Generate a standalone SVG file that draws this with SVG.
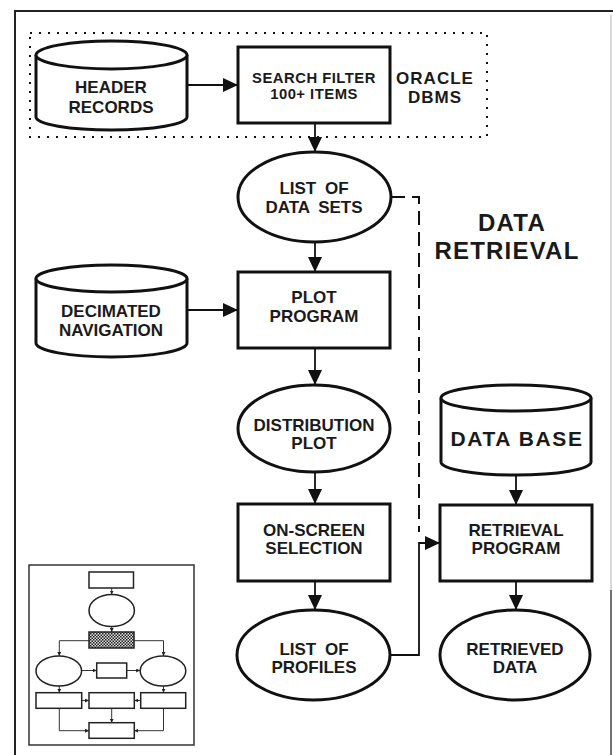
<svg xmlns="http://www.w3.org/2000/svg" width="613" height="755" viewBox="0 0 613 755">
<defs>
<marker id="ah" markerUnits="userSpaceOnUse" markerWidth="15" markerHeight="14" refX="15" refY="7" orient="auto">
<path d="M0,0 L15,7 L0,14 Z" fill="#111"/>
</marker>
<marker id="sh" markerUnits="userSpaceOnUse" markerWidth="4" markerHeight="4" refX="4" refY="2" orient="auto">
<path d="M0,0 L4,2 L0,4 Z" fill="#222"/>
</marker>
<pattern id="chk" width="3" height="3" patternUnits="userSpaceOnUse">
<rect width="3" height="3" fill="#ddd"/>
<rect width="1.5" height="1.5" fill="#222"/>
<rect x="1.5" y="1.5" width="1.5" height="1.5" fill="#222"/>
</pattern>
<style>
.sh{fill:#fff;stroke:#111;stroke-width:3}
.t{font-family:"Liberation Sans",Arial,sans-serif;font-weight:bold;font-size:17px;fill:#1a1a1a;text-anchor:middle}
.big{font-size:24px;letter-spacing:1.2px}
.db{font-size:21px;letter-spacing:1.6px}
.sf{font-size:14.8px;letter-spacing:0.5px}
.ws{word-spacing:4px}
.c{fill:none;stroke:#111;stroke-width:1.8}
.dash{fill:none;stroke:#111;stroke-width:2;stroke-dasharray:14 7}
.th{fill:#fff;stroke:#222;stroke-width:1.5}
.tl{fill:none;stroke:#333;stroke-width:1}
</style>
</defs>
<rect width="613" height="755" fill="#fff"/>
<g id="frame">
<line x1="14" y1="11" x2="613" y2="11" stroke="#222" stroke-width="2"/>
<line x1="15" y1="10" x2="15" y2="755" stroke="#222" stroke-width="2"/>
<line x1="611" y1="15" x2="611" y2="590" stroke="#ccc" stroke-width="1.5"/>
<line x1="611" y1="590" x2="611" y2="755" stroke="#444" stroke-width="1.5"/>
</g>
<g id="oracle-group">
<rect x="30" y="33" width="457" height="104" fill="none" stroke="#111" stroke-width="2" stroke-dasharray="2 7"/>
<text class="t" x="435" y="84" letter-spacing="1">ORACLE</text>
<text class="t" x="435" y="103" letter-spacing="1">DBMS</text>
</g>
<g id="connectors">
<line class="c" x1="187" y1="85" x2="238" y2="85" marker-end="url(#ah)"/>
<line class="c" x1="315" y1="123" x2="315" y2="152" marker-end="url(#ah)"/>
<line class="c" x1="315" y1="242" x2="315" y2="272" marker-end="url(#ah)"/>
<line class="c" x1="187" y1="310" x2="238" y2="310" marker-end="url(#ah)"/>
<line class="c" x1="315" y1="348" x2="315" y2="385" marker-end="url(#ah)"/>
<line class="c" x1="315" y1="472" x2="315" y2="504" marker-end="url(#ah)"/>
<line class="c" x1="315" y1="581" x2="315" y2="610" marker-end="url(#ah)"/>
<line class="c" x1="516" y1="475" x2="516" y2="505" marker-end="url(#ah)"/>
<line class="c" x1="516" y1="581" x2="516" y2="610" marker-end="url(#ah)"/>
<path class="dash" d="M391,197 H419 V532"/>
<path class="c" d="M390,655 H419 V543 H440" marker-end="url(#ah)"/>
</g>
<g id="header-records">
<path class="sh" d="M36,55 L36,117 A75.5,13 0 0 0 187,117 L187,55"/>
<ellipse class="sh" cx="111.5" cy="55" rx="75.5" ry="14"/>
<text class="t" x="111" y="93">HEADER</text>
<text class="t" x="111" y="113">RECORDS</text>
</g>
<g id="search-filter">
<rect class="sh" x="238" y="47" width="152" height="76"/>
<text class="t sf" x="314" y="83">SEARCH FILTER</text>
<text class="t sf" x="314" y="98.5">100+ ITEMS</text>
</g>
<g id="list-data-sets">
<ellipse class="sh" cx="314.5" cy="197" rx="76.5" ry="45"/>
<text class="t ws" x="314" y="194">LIST OF</text>
<text class="t ws" x="314" y="213">DATA SETS</text>
</g>
<g id="data-retrieval-label">
<text class="t big" x="512" y="230.6">DATA</text>
<text class="t big" x="507" y="258.6">RETRIEVAL</text>
</g>
<g id="decimated-navigation">
<path class="sh" d="M36,278.5 L36,343 A75.5,14 0 0 0 187,343 L187,278.5"/>
<ellipse class="sh" cx="111.5" cy="278.5" rx="75.5" ry="13.5"/>
<text class="t" x="111" y="317">DECIMATED</text>
<text class="t" x="111" y="336">NAVIGATION</text>
</g>
<g id="plot-program">
<rect class="sh" x="238" y="272" width="152" height="76"/>
<text class="t" x="314" y="303">PLOT</text>
<text class="t" x="314" y="322">PROGRAM</text>
</g>
<g id="distribution-plot">
<ellipse class="sh" cx="314" cy="428.5" rx="76" ry="43.5"/>
<text class="t" x="314" y="431">DISTRIBUTION</text>
<text class="t" x="314" y="449">PLOT</text>
</g>
<g id="data-base">
<path class="sh" d="M441,398 L441,462 A75,13 0 0 0 591,462 L591,398"/>
<ellipse class="sh" cx="516" cy="398" rx="75" ry="13"/>
<text class="t db" x="517" y="445.5">DATA BASE</text>
</g>
<g id="on-screen-selection">
<rect class="sh" x="238" y="504" width="152" height="77"/>
<text class="t" x="314" y="536">ON-SCREEN</text>
<text class="t" x="314" y="554">SELECTION</text>
</g>
<g id="retrieval-program">
<rect class="sh" x="440" y="505" width="152" height="76"/>
<text class="t" x="516" y="536">RETRIEVAL</text>
<text class="t" x="516" y="554">PROGRAM</text>
</g>
<g id="list-of-profiles">
<ellipse class="sh" cx="313.5" cy="655" rx="76.5" ry="45"/>
<text class="t ws" x="314" y="655">LIST OF</text>
<text class="t" x="314" y="673">PROFILES</text>
</g>
<g id="retrieved-data">
<ellipse class="sh" cx="515" cy="655" rx="75" ry="45"/>
<text class="t" x="515" y="655">RETRIEVED</text>
<text class="t" x="515" y="673">DATA</text>
</g>
<g id="thumbnail">
<rect x="29" y="565" width="165" height="180" fill="#fff" stroke="#333" stroke-width="1.5"/>
<g id="thumb-connectors">
<line class="tl" x1="111.7" y1="588" x2="111.7" y2="594.5" marker-end="url(#sh)"/>
<line class="tl" x1="111.7" y1="626.5" x2="111.7" y2="632" marker-end="url(#sh)"/>
<path class="tl" d="M89,640.7 H59.3 V656" marker-end="url(#sh)"/>
<path class="tl" d="M134,640.7 H163.5 V656" marker-end="url(#sh)"/>
<line class="tl" x1="81.6" y1="670.5" x2="96.7" y2="670.5" marker-end="url(#sh)"/>
<line class="tl" x1="126.7" y1="670.5" x2="140.2" y2="670.5" marker-end="url(#sh)"/>
<line class="tl" x1="59.3" y1="686" x2="59.3" y2="692.7" marker-end="url(#sh)"/>
<line class="tl" x1="163.5" y1="686" x2="163.5" y2="692.7" marker-end="url(#sh)"/>
<line class="tl" x1="81.7" y1="700.5" x2="89" y2="700.5" marker-end="url(#sh)"/>
<line class="tl" x1="140.7" y1="700.5" x2="134.3" y2="700.5" marker-end="url(#sh)"/>
<line class="tl" x1="111.7" y1="708.3" x2="111.7" y2="722.7" marker-end="url(#sh)"/>
<path class="tl" d="M59.3,708.3 V730.7 H89" marker-end="url(#sh)"/>
<path class="tl" d="M163.5,708.3 V730.7 H134.3" marker-end="url(#sh)"/>
</g>
<rect class="th" x="89" y="572" width="44.5" height="16"/>
<ellipse class="th" cx="111.7" cy="610.5" rx="22.7" ry="16"/>
<rect x="89" y="632" width="45" height="16" fill="url(#chk)" stroke="#222" stroke-width="1.5"/>
<ellipse class="th" cx="58.8" cy="671" rx="22.8" ry="15"/>
<rect class="th" x="96.7" y="663" width="30" height="15"/>
<ellipse class="th" cx="163" cy="671" rx="22.8" ry="15"/>
<rect class="th" x="36" y="692.7" width="45.7" height="15.6"/>
<rect class="th" x="89" y="692.7" width="45.3" height="15.6"/>
<rect class="th" x="140.7" y="692.7" width="45" height="15.6"/>
<rect class="th" x="89" y="722.7" width="45.3" height="15.6"/>
</g>
</svg>
